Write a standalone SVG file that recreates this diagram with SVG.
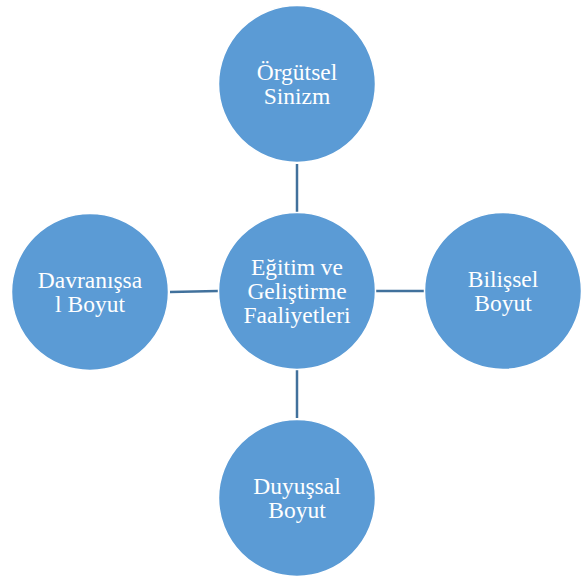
<svg xmlns="http://www.w3.org/2000/svg" width="583" height="578" viewBox="0 0 583 578">
<style>
.n circle{fill:#5B9BD5;stroke:#FFFFFF;stroke-width:1.5}
.n text{font-family:"Liberation Serif","Times New Roman",serif;font-size:23.5px;fill:#FFFFFF;text-anchor:middle}
.c line{stroke:#41719C;stroke-width:2.5}
</style>
<rect width="583" height="578" fill="#FFFFFF"/>
<g id="connectors" class="c">
<line x1="297" y1="164" x2="297" y2="212"/>
<line x1="170" y1="292" x2="218" y2="291"/>
<line x1="376" y1="291" x2="424" y2="291"/>
<line x1="297" y1="370" x2="297" y2="418"/>
</g>
<g id="center" class="n">
<circle cx="297" cy="291" r="78.5"/>
<text x="297" y="275">Eğitim ve</text>
<text x="297" y="299">Geliştirme</text>
<text x="297" y="323">Faaliyetleri</text>
</g>
<g id="top" class="n">
<circle cx="297" cy="84" r="78.5"/>
<text x="297" y="80">Örgütsel</text>
<text x="297" y="104">Sinizm</text>
</g>
<g id="left" class="n">
<circle cx="90" cy="292" r="78.5"/>
<text x="90" y="288">Davranışsa</text>
<text x="90" y="312">l Boyut</text>
</g>
<g id="right" class="n">
<circle cx="503" cy="291" r="78.5"/>
<text x="503" y="287">Bilişsel</text>
<text x="503" y="311">Boyut</text>
</g>
<g id="bottom" class="n">
<circle cx="297" cy="498" r="78.5"/>
<text x="297" y="494">Duyuşsal</text>
<text x="297" y="518">Boyut</text>
</g>
</svg>
